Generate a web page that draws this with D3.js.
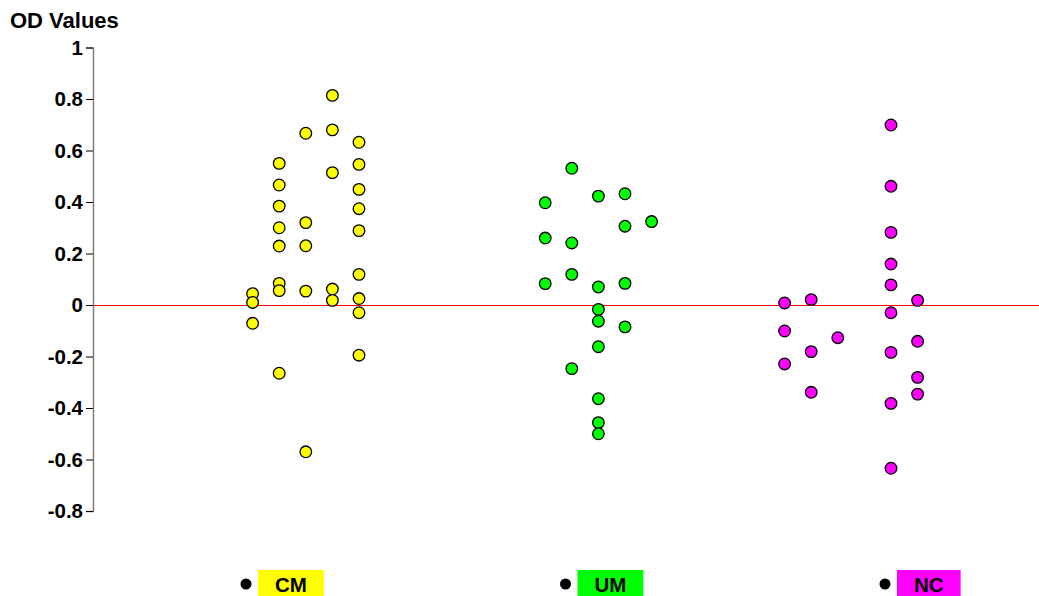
<!DOCTYPE html>
<html>
<head>
<meta charset="utf-8">
<script src="https://cdn.jsdelivr.net/npm/d3@7"></script>
<style>
	body { margin: 0; background: #fff; }
	svg { display: block; font-family: "Liberation Sans", Arial, sans-serif; }
</style>
</head>
<body>
<div id="chart"></div>
<script>
'use strict';

// groups shown in the legend, with their fill colours
const groups = ["CM", "UM", "NC"];
const group_colors = ["#ffff00", "#00ff00", "#ff00ff"];

// every point: x column (in column units from the axis) and OD value
const cm_x = [6, 6, 6,
	7, 7, 7, 7, 7, 7, 7, 7,
	8, 8, 8, 8, 8,
	9, 9, 9, 9, 9,
	10, 10, 10, 10, 10, 10, 10, 10, 10];
const cm_values = [0.044, 0.010, -0.071,
	0.550, 0.466, 0.384, 0.300, 0.229, 0.084, 0.056, -0.265,
	0.667, 0.320, 0.230, 0.054, -0.570,
	0.814, 0.680, 0.514, 0.062, 0.018,
	0.632, 0.546, 0.449, 0.374, 0.289, 0.119, 0.025, -0.030, -0.195];

const um_x = [17, 17, 17,
	18, 18, 18, 18,
	19, 19, 19, 19, 19, 19, 19, 19,
	20, 20, 20, 20,
	21];
const um_values = [0.397, 0.260, 0.083,
	0.531, 0.241, 0.119, -0.247,
	0.423, 0.070, -0.017, -0.063, -0.162, -0.364, -0.457, -0.500,
	0.432, 0.306, 0.084, -0.085,
	0.324];

const nc_x = [26, 26, 26,
	27, 27, 27,
	28,
	30, 30, 30, 30, 30, 30, 30, 30, 30,
	31, 31, 31, 31];
const nc_values = [0.008, -0.101, -0.229,
	0.021, -0.181, -0.339,
	-0.127,
	0.699, 0.461, 0.282, 0.159, 0.078, -0.030, -0.184, -0.382, -0.634,
	0.018, -0.141, -0.281, -0.346];

const y_ticks = [1, 0.8, 0.6, 0.4, 0.2, 0, -0.2, -0.4, -0.6, -0.8];

const width = 1039;
const height = 596;

const series = [
	{ name: "CM", x: cm_x, v: cm_values, color: group_colors[0] },
	{ name: "UM", x: um_x, v: um_values, color: group_colors[1] },
	{ name: "NC", x: nc_x, v: nc_values, color: group_colors[2] }
];

const x = d3.scaleLinear()
	.domain([0, 36])
	.range([93, 93 + 36 * 26.6]);

const y = d3.scaleLinear()
	.domain([-0.8, 1])
	.range([511, 47.5]);

const svg = d3.select("#chart")
	.append("svg")
		.attr("width", width)
		.attr("height", height);

// y axis; plain hyphen for negatives like the original
const yAxis = svg.append("g")
	.attr("class", "y-axis")
	.attr("transform", `translate(${x(0)},0)`)
	.call(d3.axisLeft(y)
		.tickValues(y_ticks)
		.tickFormat(d => String(+d.toFixed(1)))
		.tickSizeOuter(0)
		.tickSize(7)
		.tickPadding(3));

yAxis.select(".domain")
	.attr("stroke", "#808080")
	.attr("stroke-width", 1.5);
yAxis.selectAll(".tick line")
	.attr("stroke", "#000");
yAxis.selectAll(".tick text")
	.attr("fill", "#000")
	.attr("font-size", 20.5)
	.attr("font-weight", "bold")
	.attr("font-family", "'Liberation Sans', Arial, sans-serif");

// axis title
svg.append("text")
	.attr("x", 10)
	.attr("y", 28)
	.attr("font-size", 22)
	.attr("font-weight", "bold")
	.attr("fill", "#000")
	.text("OD Values");

// zero line
svg.append("line")
	.attr("x1", x(0) + 1)
	.attr("x2", width)
	.attr("y1", Math.round(y(0)) + 0.5)
	.attr("y2", Math.round(y(0)) + 0.5)
	.attr("stroke", "#ff0000")
	.attr("stroke-width", 1);

// points
series.forEach(function(s) {
	svg.append("g")
		.attr("class", "points-" + s.name)
		.selectAll("circle")
		.data(s.v)
		.join("circle")
			.attr("cx", (d, i) => x(s.x[i]))
			.attr("cy", d => y(d))
			.attr("r", 5.8)
			.attr("fill", s.color)
			.attr("stroke", "#000")
			.attr("stroke-width", 1.3);
});

// legend
const legend_x = d3.scalePoint()
	.domain(groups)
	.range([246, 885]);

const legend = svg.append("g")
	.attr("class", "legend")
	.selectAll("g")
	.data(groups)
	.join("g")
		.attr("transform", d => `translate(${legend_x(d)},584)`);

legend.append("circle")
	.attr("r", 5.5)
	.attr("fill", "#000");

legend.each(function(d, i) {
	const g = d3.select(this);
	const box = g.append("rect")
		.attr("x", 12)
		.attr("y", -14)
		.attr("height", 27)
		.attr("fill", group_colors[i]);
	const t = g.append("text")
		.attr("y", 8)
		.attr("text-anchor", "middle")
		.attr("font-size", 20.5)
		.attr("font-weight", "bold")
		.attr("fill", "#000")
		.text(d);
	const w = t.node().getComputedTextLength() + 34;
	box.attr("width", w);
	t.attr("x", 12 + w / 2);
});
</script>
</body>
</html>
